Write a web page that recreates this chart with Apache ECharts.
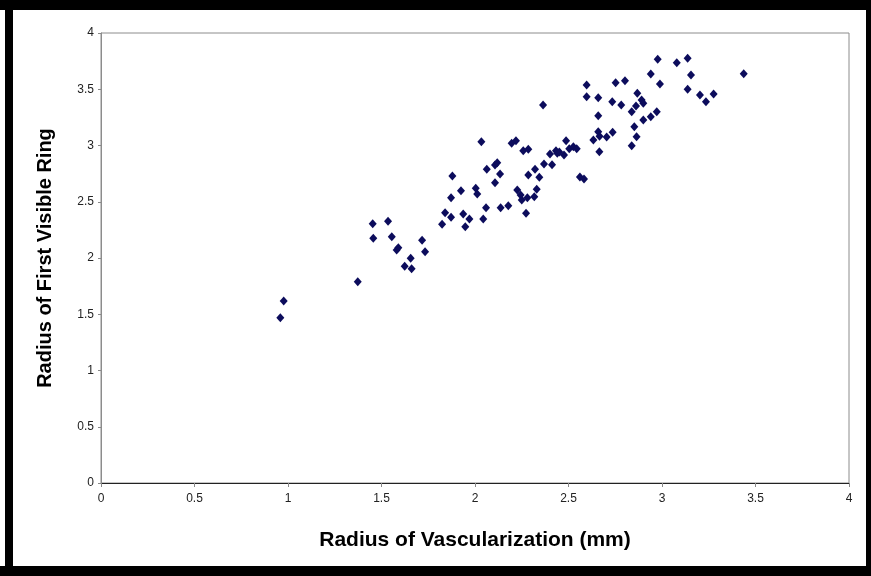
<!DOCTYPE html>
<html>
<head>
<meta charset="utf-8">
<script src="https://cdn.jsdelivr.net/npm/echarts@6/dist/echarts.min.js"></script>
<style>
  html, body { margin: 0; padding: 0; background: #fff; }
  #chart { width: 871px; height: 576px; }
</style>
</head>
<body>
<div id="chart"></div>
<script>
// radius of vascularization (mm)
const vascRadius = [
  0.977, 0.959, 1.373, 1.453, 1.535, 1.456, 1.555, 1.581, 1.590, 1.717,
  1.733, 1.656, 1.624, 1.661, 2.034, 2.196, 2.219, 2.258, 2.285, 2.401,
  2.433, 2.440, 2.451, 2.487, 2.476, 2.504, 2.526, 2.544, 2.633, 2.659,
  2.666, 2.704, 2.736, 2.665, 2.852, 2.864, 2.838, 1.879, 2.063, 2.107,
  2.119, 2.134, 2.107, 2.285, 2.321, 2.344, 2.369, 2.412, 2.561, 2.583,
  1.925, 2.004, 2.012, 1.872, 2.226, 2.330, 2.244, 2.250, 2.280, 2.317,
  1.840, 1.872, 1.937, 1.970, 2.059, 2.137, 2.178, 1.824, 1.948, 2.044,
  2.273, 2.364, 2.977, 3.079, 3.137, 2.940, 2.989, 3.155, 3.437, 3.137,
  3.203, 3.235, 3.276, 2.597, 2.752, 2.802, 2.597, 2.659, 2.734, 2.782,
  2.868, 2.891, 2.900, 2.861, 2.838, 2.659, 2.972, 2.940, 2.900
];
// radius of first visible ring
const ringRadius = [
  1.618, 1.469, 1.789, 2.305, 2.326, 2.175, 2.189, 2.071, 2.092, 2.157,
  2.056, 1.997, 1.926, 1.905, 3.034, 3.020, 3.043, 2.954, 2.966, 2.924,
  2.954, 2.931, 2.942, 3.043, 2.916, 2.972, 2.989, 2.972, 3.049, 3.123,
  3.082, 3.076, 3.117, 2.945, 3.167, 3.078, 2.997, 2.729, 2.788, 2.827,
  2.847, 2.747, 2.669, 2.738, 2.788, 2.717, 2.836, 2.829, 2.720, 2.702,
  2.598, 2.620, 2.569, 2.536, 2.604, 2.611, 2.560, 2.516, 2.536, 2.545,
  2.403, 2.362, 2.391, 2.347, 2.447, 2.447, 2.465, 2.300, 2.278, 2.347,
  2.397, 3.360, 3.766, 3.736, 3.775, 3.636, 3.547, 3.627, 3.638, 3.500,
  3.449, 3.389, 3.458, 3.538, 3.558, 3.576, 3.434, 3.425, 3.389, 3.360,
  3.464, 3.404, 3.375, 3.351, 3.300, 3.265, 3.300, 3.256, 3.227
];

const chart = echarts.init(document.getElementById('chart'));

const labelStyle = {
  fontFamily: 'Arial, "Liberation Sans", sans-serif',
  fontSize: 12,
  color: '#222'
};

chart.setOption({
  animation: false,
  backgroundColor: '#fff',
  grid: {
    left: 101,
    top: 33,
    width: 748,
    height: 450,
    show: true,
    borderColor: '#8c8c8c',
    borderWidth: 1,
    outerBoundsMode: 'none'
  },
  xAxis: {
    type: 'value',
    min: 0,
    max: 4,
    interval: 0.5,
    name: 'Radius of Vascularization (mm)',
    nameLocation: 'middle',
    nameGap: 47,
    nameTextStyle: {
      fontFamily: 'Arial, "Liberation Sans", sans-serif',
      fontSize: 21,
      fontWeight: 'bold',
      color: '#000'
    },
    axisLine: { show: true, onZero: false, lineStyle: { color: '#222', width: 1 } },
    axisTick: { show: true, inside: false, length: 4, lineStyle: { color: '#888' } },
    axisLabel: Object.assign({ margin: 10 }, labelStyle),
    splitLine: { show: false }
  },
  yAxis: {
    type: 'value',
    min: 0,
    max: 4,
    interval: 0.5,
    name: 'Radius of First Visible Ring',
    nameLocation: 'middle',
    nameGap: 46,
    nameTextStyle: {
      fontFamily: 'Arial, "Liberation Sans", sans-serif',
      fontSize: 20,
      fontWeight: 'bold',
      color: '#000'
    },
    axisLine: { show: true, onZero: false, lineStyle: { color: '#8c8c8c', width: 1 } },
    axisTick: { show: true, inside: false, length: 3, lineStyle: { color: '#888' } },
    axisLabel: Object.assign({ margin: 7 }, labelStyle),
    splitLine: { show: false }
  },
  graphic: [
    // black frame around the picture
    { type: 'rect', shape: { x: 0, y: 0, width: 871, height: 10 }, style: { fill: '#000' } },
    { type: 'rect', shape: { x: 5, y: 0, width: 8, height: 576 }, style: { fill: '#000' } },
    { type: 'rect', shape: { x: 866, y: 0, width: 5, height: 576 }, style: { fill: '#000' } },
    { type: 'rect', shape: { x: 0, y: 566, width: 871, height: 10 }, style: { fill: '#000' } }
  ],
  series: [
    {
      type: 'scatter',
      symbol: 'diamond',
      symbolSize: [8, 9],
      itemStyle: { color: '#0c0c5c', opacity: 1 },
      data: vascRadius.map((v, i) => [v, ringRadius[i]])
    }
  ]
});
</script>
</body>
</html>
